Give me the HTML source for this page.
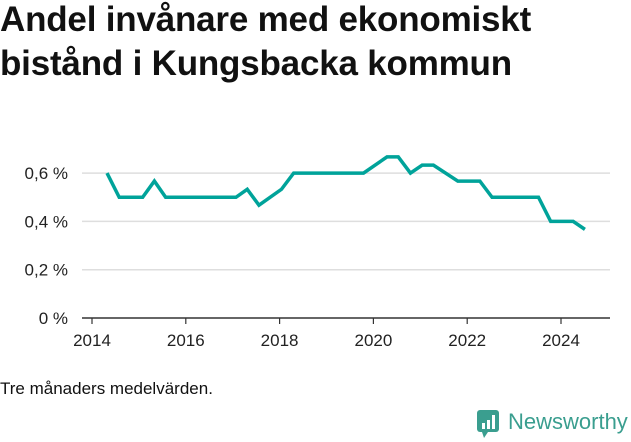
<!DOCTYPE html>
<html><head><meta charset="utf-8"><style>
body{margin:0;width:631px;height:439px;background:#fff;overflow:hidden;font-family:"Liberation Sans","DejaVu Sans",sans-serif;}
h1{position:absolute;left:0;top:-2px;margin:0;font-size:35px;line-height:44px;font-weight:bold;color:#111;letter-spacing:-0.2px;}
.note{position:absolute;left:0;top:379px;font-size:17px;color:#111;}
svg{position:absolute;left:0;top:0;}
</style></head><body>
<h1>Andel invånare med ekonomiskt<br>bistånd i Kungsbacka kommun</h1>
<svg id="chart" width="631" height="439"></svg>
<div class="note">Tre månaders medelvärden.</div>
<svg width="160" height="40" style="left:474px;top:402px">
<rect x="3" y="8" width="22" height="22" rx="3" fill="#3a9e8f"/>
<polygon points="8,30 14,30 10,36" fill="#3a9e8f"/>
<rect x="8" y="21" width="3" height="6" fill="#fff"/><rect x="13" y="18" width="3" height="9" fill="#fff"/><rect x="18" y="13" width="3" height="14" fill="#fff"/>
<text x="34" y="27" font-size="22" fill="#3a9e8f" font-family="Liberation Sans, sans-serif">Newsworthy</text>
</svg>
<script>
const years=[2014.32,2014.58,2015.08,2015.33,2015.57,2017.07,2017.31,2017.56,2018.04,2018.30,2019.79,2020.29,2020.53,2020.79,2021.04,2021.28,2021.80,2022.27,2022.53,2023.52,2023.78,2024.26,2024.51];
const values=[0.60,0.50,0.50,0.567,0.50,0.50,0.533,0.467,0.533,0.60,0.60,0.667,0.667,0.60,0.633,0.633,0.567,0.567,0.50,0.50,0.40,0.40,0.367];
const yTicks=[0,0.2,0.4,0.6];
const yTickLabels=["0 %","0,2 %","0,4 %","0,6 %"];
const xTicks=[2014,2016,2018,2020,2022,2024];
const ns="http://www.w3.org/2000/svg";
const svg=document.getElementById('chart');
const X=v=>92+(v-2014)*46.9;
const Y=v=>318-v*241.5;
function el(t,a){const e=document.createElementNS(ns,t);for(const k in a)e.setAttribute(k,a[k]);svg.appendChild(e);return e;}
yTicks.forEach((t,i)=>{
  if(t>0){const g=el('line',{x1:82,x2:610,y1:Y(t),y2:Y(t),stroke:'#dedede','stroke-width':1.5});
  
  }
  const tx=el('text',{x:68,y:Y(t)+6,'text-anchor':'end','font-size':17,fill:'#222'});
  tx.textContent=yTickLabels[i];
  
  
});
const ax=el('line',{x1:82,x2:610,y1:318,y2:318,stroke:'#333','stroke-width':1.5});


xTicks.forEach(t=>{
  const tk=el('line',{x1:X(t),x2:X(t),y1:318,y2:324,stroke:'#333','stroke-width':1.2});
  
  
  const tx=el('text',{x:X(t),y:346,'text-anchor':'middle','font-size':17,fill:'#222'});
  tx.textContent=t;
  
  
});
const p=el('polyline',{points:years.map((y,i)=>X(y)+','+Y(values[i])).join(' '),fill:'none',stroke:'#00a39a','stroke-width':3.5,'stroke-linejoin':'miter'});


</script>
</body></html>
